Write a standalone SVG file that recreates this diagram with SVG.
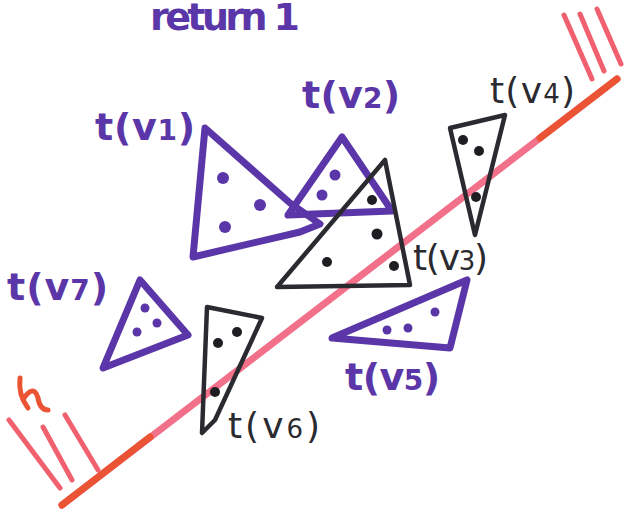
<svg xmlns="http://www.w3.org/2000/svg" width="628" height="511" viewBox="0 0 628 511">
<style>
.pur{fill:none;stroke:#5b36a8;stroke-width:7;stroke-linejoin:round;stroke-linecap:round}
.blk{fill:none;stroke:#2a2a30;stroke-width:4.5;stroke-linejoin:round;stroke-linecap:round}
.pd{fill:#5b36a8}
.bd{fill:#1e1e22}
.lp{font-family:"DejaVu Sans",sans-serif;font-weight:bold;font-size:38px;fill:#5b36a8}
.lb{font-family:"DejaVu Sans",sans-serif;font-size:36px;fill:#2a2a30}
.hatch{stroke:#f0606e;stroke-width:5;stroke-linecap:round;fill:none}
</style>
<rect width="628" height="511" fill="#ffffff"/>
<text x="150" y="30" class="lp" textLength="150" font-size="28">return 1</text>
<g id="connectors">
<line x1="62" y1="505" x2="617" y2="79" stroke="#f2708a" stroke-width="7" stroke-linecap="round"/>
<line x1="62" y1="505" x2="150" y2="437" stroke="#ea5434" stroke-width="7" stroke-linecap="round"/>
<line x1="540" y1="138" x2="617" y2="79" stroke="#ea5434" stroke-width="7" stroke-linecap="round"/>
</g>
<g id="h">
<path class="hatch" d="M564,15 L592,79 M580,14 L604,71 M597,9 L621,64"/>
<path class="hatch" d="M9,420 L60,488 M43,427 L72,480 M65,415 L98,470"/>
<path d="M20,378 Q18,395 28,408 M24,398 Q34,384 38,398 Q40,410 48,410" stroke="#ea5434" stroke-width="5" stroke-linecap="round" fill="none"/>
</g>
<g id="tv1">
<path class="pur" d="M205,128 L290,203 L320,224 L300,232 L193,257 Z"/>
<circle class="pd" cx="223" cy="178" r="6"/><circle class="pd" cx="260" cy="205" r="6"/><circle class="pd" cx="225" cy="227" r="6"/>
<text x="95" y="140" class="lp" textLength="100">t(v<tspan font-size="28">1</tspan>)</text>
</g>
<g id="tv2">
<path class="pur" d="M342,137 L392,211 L288,215 Z"/>
<circle class="pd" cx="335" cy="175" r="5.5"/><circle class="pd" cx="322" cy="195" r="5.5"/>
<text x="302" y="108" class="lp" textLength="98">t(v<tspan font-size="28">2</tspan>)</text>
</g>
<g id="tv3">
<path class="blk" d="M385,160 L410,285 L277,287 Z"/>
<circle class="bd" cx="372" cy="200" r="5"/><circle class="bd" cx="377" cy="234" r="5.5"/><circle class="bd" cx="327" cy="262" r="5"/><circle class="bd" cx="394" cy="266" r="5"/>
<text x="413" y="270" class="lb" textLength="75">t(v<tspan font-size="26">3</tspan>)</text>
</g>
<g id="tv4">
<path class="blk" d="M450,128 L505,115 L475,235 Z"/>
<circle class="bd" cx="463" cy="140" r="5"/><circle class="bd" cx="479" cy="151" r="5"/><circle class="bd" cx="476" cy="197" r="5"/>
<text x="490" y="103" class="lb" textLength="85">t(v<tspan font-size="26">4</tspan>)</text>
</g>
<g id="tv5">
<path class="pur" d="M332,338 L467,280 L450,348 Z"/>
<circle class="pd" cx="435" cy="312" r="4.5"/><circle class="pd" cx="408" cy="328" r="4.5"/><circle class="pd" cx="387" cy="330" r="4.5"/>
<text x="345" y="390" class="lp" textLength="95">t(v<tspan font-size="28">5</tspan>)</text>
</g>
<g id="tv6">
<path class="blk" d="M207,307 L262,318 L215,420 L202,433 Z"/>
<circle class="bd" cx="237" cy="332" r="5"/><circle class="bd" cx="218" cy="343" r="5"/><circle class="bd" cx="215" cy="392" r="5"/>
<text x="228" y="438" class="lb" textLength="92">t(v<tspan font-size="26">6</tspan>)</text>
</g>
<g id="tv7">
<path class="pur" d="M140,280 L188,335 L103,368 Z"/>
<circle class="pd" cx="145" cy="308" r="4.5"/><circle class="pd" cx="157" cy="323" r="4.5"/><circle class="pd" cx="137" cy="332" r="4.5"/>
<text x="7" y="300" class="lp" textLength="101">t(v<tspan font-size="28">7</tspan>)</text>
</g>
</svg>
